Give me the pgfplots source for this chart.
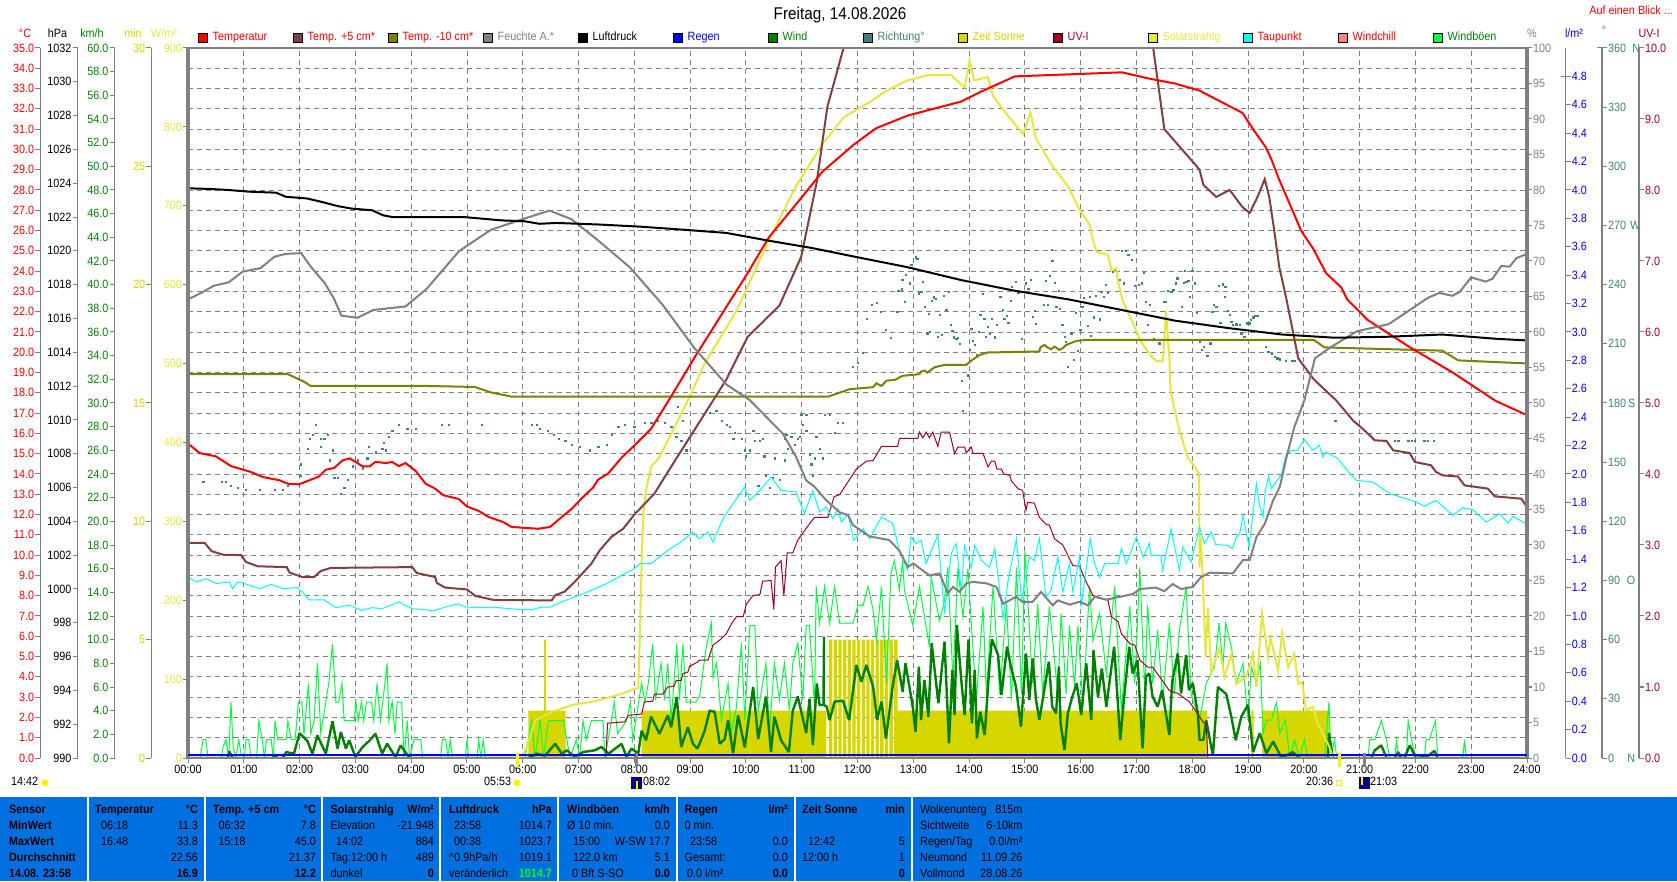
\documentclass[border=0pt]{standalone}
\usepackage{fontspec}
\setmainfont[FakeStretch=0.9]{Liberation Sans}
\usepackage{pgfplots}
\pgfplotsset{compat=1.18}
\definecolor{cHum}{RGB}{128,128,128}
\definecolor{cT5}{RGB}{128,64,64}
\definecolor{cT10}{RGB}{128,128,0}
\definecolor{cDir}{RGB}{64,128,128}
\definecolor{cSun}{RGB}{214,214,0}
\definecolor{cUV}{RGB}{160,0,32}
\definecolor{cSol}{RGB}{230,230,64}
\definecolor{cDew}{RGB}{0,255,255}
\definecolor{cChill}{RGB}{255,128,128}
\definecolor{cGust}{RGB}{0,255,64}
\definecolor{cWind}{RGB}{0,128,0}
\definecolor{cPanel}{RGB}{0,112,224}
\definecolor{cGreenB}{RGB}{0,255,0}
\newcommand{\fs}{\fontsize{12}{13}\selectfont}
\pgfplotsset{
 dataaxis/.style={at={(188pt,123pt)},anchor=south west,scale only axis,width=1339pt,height=710pt,xmin=0,xmax=24,hide axis},
 scaleaxis/.style={scale only axis,anchor=south west,width=10pt,height=710pt,xmin=0,xmax=1,
   hide x axis,axis line style={-,cHum,line width=1.4pt},tick align=outside,major tick length=5pt,
   tick style={cHum,line width=1pt},minor tick num=0,scaled y ticks=false,
   /pgf/number format/assume math mode=true,/pgf/number format/1000 sep={},
   yticklabel style={inner sep=1pt,font=\fs}},
 leftaxis/.style={scaleaxis,axis y line*=left},
 rightaxis/.style={scaleaxis,axis y line*=right},
 onedec/.style={yticklabel style={/pgf/number format/fixed,/pgf/number format/fixed zerofill,/pgf/number format/precision=1}},
}
\begin{document}
\begin{tikzpicture}
\path[use as bounding box] (0,0) rectangle (1677pt,881pt);
% base grid
\begin{axis}[dataaxis,hide axis=false,axis line style={draw=none},ymin=0,ymax=35,
  xtick={0,...,24},ytick={0,...,35},xticklabels={},yticklabels={},major tick length=0pt,
  grid=major,grid style={cHum,line width=0.9pt,dash pattern=on 5pt off 4pt}]
\end{axis}
% sun minutes
\begin{axis}[dataaxis,ymin=0,ymax=30]
\addplot[fill=cSun,draw=none] coordinates {(6.1,0)(6.1,2)(6.38,2)(6.38,5)(6.42,5)(6.42,2)(6.77,2)(6.77,0)(8.13,0)(8.13,2)(11.44,2)(11.44,0)
(11.49,0)(11.49,5)(11.55,5)(11.55,0)(11.573,0)(11.573,5)(11.633,5)(11.633,0)(11.657,0)(11.657,5)(11.717,5)(11.717,0)(11.74,0)(11.74,5)(11.8,5)(11.8,0)
(11.823,0)(11.823,5)(11.883,5)(11.883,0)(11.907,0)(11.907,5)(11.967,5)(11.967,0)(11.99,0)(11.99,5)(12.05,5)(12.05,0)(12.073,0)(12.073,5)(12.133,5)(12.133,0)
(12.157,0)(12.157,5)(12.217,5)(12.217,0)(12.24,0)(12.24,5)(12.3,5)(12.3,0)(12.323,0)(12.323,5)(12.383,5)(12.383,0)(12.407,0)(12.407,5)(12.467,5)(12.467,0)
(12.49,0)(12.49,5)(12.55,5)(12.55,0)(12.573,0)(12.573,5)(12.633,5)(12.633,0)(12.657,0)(12.657,5)(12.717,5)(12.717,2)(18.27,2)(18.27,0)
(19.06,0)(19.06,2)(19.1,2)(19.1,0)(19.25,0)(19.25,2)(20.46,2)(20.46,0)};
\end{axis}
% gust and wind
\begin{axis}[dataaxis,ymin=0,ymax=60]
\addplot[cGust,line width=1pt] coordinates {(0,0)(.22,0)(.27,1.55)(.32,1.55)(.36,0)(.6,0)(.63,.93)(.68,1.55)(.73,0)(.77,4.73)(.81,.93)(.86,0)(.91,1.55)(.95,.37)(1.01,0)(1.04,1.55)(1.09,1.55)(1.13,0)(1.23,0)(1.27,3.15)(1.33,1.55)(1.37,0)(1.41,1.55)(1.49,1.55)(1.53,0)(1.56,3.15)(1.61,1.55)(1.76,1.55)(1.79,3.15)(1.85,1.55)(1.92,1.55)(1.98,4.73)(2.04,4.73)(2.08,2.05)(2.16,6.3)(2.2,2.05)(2.26,3.15)(2.32,8)(2.38,2.05)(2.47,4.73)(2.53,6.55)(2.59,9.66)(2.65,4.73)(2.7,4.73)(2.76,6.3)(2.8,3.15)(2.98,3.15)(3.01,4.73)(3.05,3.15)(3.11,4.73)(3.15,3.15)(3.2,4.73)(3.29,4.73)(3.33,3.15)(3.39,6.3)(3.45,3.15)(3.49,4.73)(3.57,8)(3.6,3.15)(3.66,4.73)(3.71,2.05)(3.75,4.73)(3.83,4.73)(3.87,0)(3.93,3.15)(3.97,0)(4.05,1.55)(4.17,1.55)(4.21,0)(4.53,0)(4.56,1.55)(4.62,1.55)(4.66,0)(4.7,1.55)(4.74,0)(4.97,0)(5.0,1.55)(5.03,0)(5.18,0)(5.21,1.55)(5.25,0)(5.29,1.55)(5.33,0)(6.04,0)(6.1,1.55)(6.16,3.15)(6.22,0)(6.31,3.15)(6.37,0)(6.46,3.15)(6.52,3.15)(6.73,3.15)(6.79,1.55)(6.85,0)(6.96,1.55)(7.02,0)(7.08,3.15)(7.14,1.55)(7.23,3.15)(7.44,3.15)(7.47,0)(7.59,3.15)(7.64,4.73)(7.7,2.05)(7.86,3.15)(7.93,4.73)(7.97,1.5)(8.13,6.3)(8.19,4.73)(8.25,6.3)(8.33,9.66)(8.38,4.87)(8.48,8)(8.54,4.87)(8.6,8)(8.66,3.15)(8.76,9.66)(8.81,4.87)(8.87,9.66)(8.93,4.73)(9.1,4.73)
(9.17,5.2)(9.29,9.4)(9.38,11.4)(9.41,6.8)(9.47,8)(9.5,6.8)(9.56,3.2)(9.68,6.3)(9.74,2.1)(9.83,4.3)(9.92,9.7)(9.98,3.2)(10.07,11.2)(10.16,11.2)(10.22,4)(10.36,8)(10.42,2.1)(10.51,8)(10.6,4.9)(10.69,8)(10.78,4)(10.84,8)(10.93,9.7)(11.02,4.9)(11.08,11.2)(11.14,11.2)(11.23,4.3)(11.26,14.5)(11.32,11.4)(11.41,14.5)(11.5,11.4)(11.59,14.5)(11.68,11.4)(11.92,11.4)(12.01,12.9)(12.1,12.9)(12.19,14.5)(12.28,12.5)(12.34,9.9)(12.43,14.5)(12.52,6.3)(12.6,15.6)(12.66,16.7)(12.75,14.2)(12.81,16.7)(12.84,14.2)(12.99,11.2)(13.11,14.5)(13.29,9.4)(13.32,15.3)(13.47,11.6)(13.56,13.3)(13.62,16.1)(13.71,6.6)(13.8,16.1)(13.89,11.9)(13.98,16)(14.04,11.4)(14.13,4.9)(14.25,12.8)(14.31,5.4)(14.43,14.5)(14.55,5.4)(14.67,13)(14.76,4.9)(14.85,16.1)(14.94,5.4)(15,17.5)(15.14,6.3)(15.23,13)(15.32,5.4)(15.44,12.8)(15.59,5.4)(15.65,12.2)(15.74,5.4)(15.8,11.2)(15.89,6)(15.95,11.2)(16.04,4.3)(16.16,14.5)(16.22,9.9)(16.34,12.2)(16.46,7.1)(16.61,14.5)(16.73,4)(16.88,12.8)(16.97,6.3)(17.06,16.1)(17.15,5.4)(17.2,12.9)(17.29,6.3)(17.38,10.8)(17.47,4.9)(17.59,11.4)(17.68,5.4)(17.77,10.8)(17.89,14.5)(17.98,5.4)(18.13,3.2)(18.25,6.3)(18.4,7.7)(18.48,11.4)
(18.55,7.7)(18.6,11.4)(18.7,9.4)(18.79,6.3)(18.91,8)(19,3.2)(19.06,7.7)(19.15,6.3)(19.22,8)(19.27,2.1)(19.33,3.2)(19.42,3.2)(19.51,4.7)(19.57,2.1)(19.67,3.2)(19.75,0)(19.83,1.55)(19.92,0)(20.01,1.55)(20.07,0)(20.37,0)(20.45,4.73)(20.49,0)(20.55,1.55)(20.59,0)(21.15,0)(21.18,1.55)(21.27,1.55)(21.39,3.15)(21.48,1.55)(21.54,0)(21.63,0)(21.66,1.55)(21.7,0)(21.84,0)(21.87,3.15)(21.93,1.55)(22.01,0)(22.16,0)(22.19,1.55)(22.25,1.55)(22.36,3.15)(22.4,0)(22.85,0)(22.88,1.55)(22.91,0)(24,0)};
\addplot[cWind,line width=2.4pt,line join=bevel] coordinates {(0,0)(.71,0)(.74,.56)(.8,0)(1.52,0)(1.55,.3)(1.6,0)(1.7,0)(1.76,.5)(1.9,.37)(2.0,2.1)(2.14,1.44)(2.23,.37)(2.32,1.9)(2.47,.37)(2.59,3.1)(2.68,.8)(2.74,2.2)(2.83,.8)(2.89,1.5)(3.0,.08)(3.13,.93)(3.27,1.55)(3.36,2.05)(3.48,.37)(3.57,1.2)(3.72,.08)(3.81,1.07)(3.96,.08)(4.0,0)(6.1,0)(6.25,.37)(6.4,.2)(6.58,1.2)(6.7,.37)(6.79,.65)(6.93,.1)(7.08,.5)(7.29,.65)(7.41,.93)(7.54,.37)(7.77,1.2)(7.86,.1)(7.95,.8)(8.07,.37)(8.13,2.3)(8.21,1.5)(8.3,3.5)(8.45,2.05)(8.6,3.6)(8.66,2.6)(8.76,5.15)(8.84,.93)(8.96,2.6)(9.05,1.2)(9.13,.8)
(9.17,1.2)(9.26,2.3)(9.35,4)(9.44,3.9)(9.53,1.2)(9.62,1.6)(9.68,3.2)(9.77,.4)(9.86,3.6)(9.98,.9)(10.13,6)(10.22,1.6)(10.36,5.2)(10.45,.5)(10.51,3.5)(10.63,1.5)(10.77,.5)(10.84,4)(10.93,5.2)(11.08,2.1)(11.14,5)(11.2,1.1)(11.27,6.3)
(11.32,4.48)(11.39,4.48)(11.4,10.25)(11.4,4.48)(11.45,4.34)(11.5,3.21)(11.59,4.76)(11.74,4.84)(11.85,3.21)(11.98,7.86)(12.07,6.45)(12.16,7.86)(12.28,6.03)(12.35,3.21)(12.43,4.76)(12.51,1.66)(12.63,6.03)(12.71,8.28)(12.81,5.6)(12.86,8)(12.99,4.34)(13.04,2.22)(13.1,7.72)(13.14,3.21)(13.2,6.59)(13.27,3.49)(13.33,9.69)(13.39,7.15)(13.45,4.62)(13.56,9.83)(13.64,1.24)(13.7,7.43)(13.74,3.63)(13.78,11.24)(13.86,6.59)(13.92,3.63)(13.99,10.03)(14.05,2.93)(14.1,7.43)(14.14,1.66)(14.2,3.91)(14.28,1.94)(14.37,8.14)(14.41,10.03)(14.52,8.7)(14.58,5.32)(14.68,9.41)(14.75,7.72)(14.84,6.03)(14.93,2.65)(15.02,8.84)(15.08,4.9)(15.14,8.42)(15.2,4.9)(15.26,3.21)(15.43,8.14)
(15.49,4.34)(15.56,3.77)(15.61,7.72)(15.64,2.93)(15.71,.67)(15.77,3.77)(15.85,5.18)(15.93,6.31)(16.01,3.63)(16.1,8)(16.19,3.21)(16.23,9.12)(16.31,5.18)(16.38,7.57)(16.46,4.34)(16.6,9.41)(16.71,1.52)(16.78,5.18)(16.87,9.41)(16.93,7.15)(17.02,8.28)(17.11,.81)(17.17,6.87)(17.23,7.15)(17.29,5.18)(17.38,4.34)(17.46,5.74)(17.59,1.94)(17.64,6.45)(17.74,8.84)(17.8,5.46)(17.89,8.7)(17.94,5.74)(18.01,6.31)(18.1,3.77)(18.13,1.52)(18.2,1.52)(18.25,3.2)(18.37,.2)(18.46,6)
(18.61,5.4)(18.7,3.5)(18.78,1.5)(18.88,3.5)(19,4.5)(19.09,.5)(19.21,2.1)(19.33,.4)(19.45,1.4)(19.6,0)(19.8,.5)(19.92,0)(20.43,0)(20.45,2.1)(20.52,0)(21.21,0)(21.27,.65)(21.39,1.07)(21.48,0)(21.63,0)(21.69,.5)(21.75,0)(21.8,0)(21.9,1.07)(22.01,0)(22.22,.15)(22.34,.6)(22.4,0)(24,0)};
\end{axis}
% wind direction
\begin{axis}[dataaxis,ymin=0,ymax=360]
\addplot[only marks,mark=square*,mark size=0.65pt,cDir,mark options={draw=none,fill=cDir}] coordinates {(.27,140)(.6,140)(.68,140)(.77,138)(.89,137)(1.04,136)(1.28,136)(1.55,136)(1.7,136)(1.79,138)(1.9,139)(1.99,139)(2.01,143)(2.02,149)(2.14,157)(2.18,162)(2.23,164)(2.29,169)(2.38,158)(2.5,164)(2.38,162)(2.44,162)(2.59,156)(2.54,151)(2.62,142)(2.68,142)(2.86,141)(2.8,137)(2.74,134)(2.95,148)(3.04,151)(3.13,147)(3.21,152)(3.24,158)(3.36,155)(3.48,157)(3.54,156)(3.51,160)(3.6,163)(3.66,166)(3.78,169)(3.93,167)(4.08,167)(4.55,169)(4.67,169)(5.27,169)(6.16,169)(6.25,169)(6.31,167)(6.45,166)(6.55,164)(6.64,162)(6.76,161)(6.88,159)(7.02,158)(7.2,156)(7.35,158)(7.5,159)(7.59,164)(7.71,168)(7.83,169)(8.0,168)(8.18,170)(8.3,170)(8.42,171)(8.54,170)(8.66,168)(8.78,178)(8.87,171)(8.75,163)(8.84,161)(8.93,156)(9.05,165)
(9.35,175)(9.47,176)(9.56,171)(9.65,169)(9.71,168)(9.8,165)(9.92,162)(9.77,162)(9.98,156)(10.07,156)(10.13,166)(10.16,161)(10.25,161)(10.3,162)(10.0,153)(10.33,153)(10.51,152)(10.22,138)(10.36,143)(10.48,142)(10.6,141)(10.42,137)(10.69,162)(10.72,164)(10.81,163)(10.87,159)(10.93,162)(10.69,151)(10.75,157)(10.84,155)(10.96,163)(11.02,169)(10.99,174)(11.08,174)(11.08,166)(11.26,163)(11.14,154)(11.32,157)(11.23,152)(11.38,152)(11.17,149)(11.2,143)(11.41,174)(11.5,174)(11.59,165)(11.65,170)(11.74,170)(13.89,176)
(11.91,198.5)(12,200.5)(12.09,205.6)(12.16,222.6)(12.25,229.7)(12.34,230.9)(12.41,226.4)(12.5,217)(12.59,213.2)(12.71,226.4)(12.73,237)(12.79,237.7)(12.8,242.4)(12.84,231.4)(12.86,245)(12.93,240.7)(12.96,250)(13.04,253.9)(13.07,253)(13.1,235.7)(13.14,236.5)(13.17,241.6)(13.2,228.9)(13.25,215.4)(13.28,225.2)(13.3,216.2)(13.33,231.9)(13.36,233.6)(13.4,233)(13.44,213.7)(13.47,224.8)(13.51,214.5)(13.54,234.3)(13.59,227.2)(13.63,236.5)(13.67,219.6)(13.7,216.7)(13.73,213.4)(13.77,212.7)(13.8,213)(13.83,210)(13.87,191.4)(13.97,194.1)(14.01,206.9)(14.04,217.7)(14.06,211.7)(14.1,209.5)(14.14,204.6)(14.17,216.2)(14.2,224.7)(14.24,235.3)(14.27,222.6)(14.3,213.7)(14.33,218.8)(14.37,215.4)(14.4,222.6)(14.46,213.4)(14.5,219.8)(14.56,234)(14.6,227.2)(14.63,222.6)(14.67,224.2)(14.7,220.6)(14.74,231.9)(14.77,239)(14.83,241.4)(14.88,236)(14.94,212.7)(14.98,236.5)(15.01,240.7)(15.06,237.9)(15.1,242.4)(15.14,223.8)(15.17,226.9)(15.2,220.1)(15.29,234.8)(15.34,229.7)(15.37,242.1)(15.41,229.7)(15.44,244.4)(15.49,252.2)(15.48,257.6)(15.53,241)(15.56,228.9)(15.6,236.8)(15.63,227.7)(15.67,219.6)(15.72,213.7)(15.73,211.2)(15.77,198.5)(15.83,215.4)(15.87,201.9)(15.91,225.9)(15.95,206.4)(15.99,217)(16.03,228.9)(16.06,233.5)(16.13,219.1)(16.16,234)(16.18,214)(16.23,223.5)(16.27,234.3)(16.34,222.5)(16.37,236.5)(16.41,234)(16.45,239.9)(16.49,236)(16.58,246.6)(16.61,247.5)(16.73,257.1)(16.81,257.1)(16.85,255.1)(16.92,252.6)(16.69,242.4)(16.77,240.7)(16.97,239.4)(17.04,239.9)(17.1,240.7)(17.13,246.1)(17.16,231.4)(17.2,219.6)(17.24,229.7)(17.31,212.7)(17.41,210.3)(17.49,231.4)(17.53,231.4)(17.56,237)(17.62,236.5)(17.66,237.3)(17.7,240.7)(17.73,243.3)(17.81,228.9)(17.85,241)(17.87,247.2)(17.89,241.6)(17.93,242.1)(17.96,234)(18,247.2)(18.04,240.7)(18.08,225.9)(18.13,211.2)(18.17,206.9)(18.2,208.6)(18.27,203.9)(18.32,210.3)(18.36,226.4)(18.39,229.7)(18.43,228.9)(18.47,239.4)(18.5,220.8)(18.54,240.2)(18.59,239)(18.58,234)(18.64,226.7)(18.67,224.7)(18.7,221.3)(18.73,219.6)(18.79,219.9)(18.85,219.6)(18.88,215.4)(18.93,213.7)(18.98,220.4)(19.02,220.4)(19.05,222.1)(19.09,223.5)(19.13,224.2)(19.17,224.2)(19.22,216.2)(19.27,212)(19.32,208.6)(19.36,206.1)(19.42,204.9)(19.48,203.6)(19.52,202.7)(19.57,202.2)(19.67,201.5)(19.79,201.5)(19.83,201.5)
(20.56,171)(21.63,161)(21.69,161)(21.87,161)(21.93,161)(21.99,161)(22.16,161)(22.22,161)(22.33,161)};
\end{axis}
% UV index
\begin{axis}[dataaxis,ymin=0,ymax=10]
\addplot[cUV,line width=1pt] coordinates {(7.49,0)(7.52,.49)(7.83,.51)(7.89,.6)(8.13,.62)(8.18,.79)(8.33,.8)(8.36,.9)(8.51,.9)(8.6,1)(8.71,1.01)(8.75,1.09)(8.84,1.09)(8.87,1.19)(8.96,1.21)(8.99,1.29)(9.13,1.35)(9.17,1.38)(9.32,1.38)(9.41,1.59)(9.53,1.66)(9.65,1.75)(9.74,1.89)(9.83,1.99)(9.95,1.99)(10.01,2.17)(10.13,2.29)(10.25,2.3)(10.3,2.49)(10.45,2.5)(10.5,2.09)(10.53,2.69)(10.63,2.78)(10.68,2.29)(10.74,2.89)(10.84,2.89)(10.93,3.07)(11.03,3.18)(11.14,3.3)(11.23,3.39)(11.47,3.39)(11.58,3.68)(11.68,3.71)(11.98,4.07)(12.16,4.18)(12.28,4.19)(12.43,4.39)(12.72,4.39)(12.75,4.5)(13.08,4.5)(13.11,4.59)(13.17,4.51)(13.23,4.59)(13.29,4.51)(13.35,4.59)(13.44,4.39)(13.5,4.59)(13.65,4.59)(13.74,4.29)(13.8,4.38)(13.92,4.38)(13.95,4.3)(14.04,4.38)(14.07,4.29)(14.25,4.29)(14.34,4.1)(14.4,4.18)(14.46,4.18)(14.5,4.07)(14.58,4.07)(14.62,4)(14.73,3.98)(14.76,3.9)(14.88,3.79)(14.96,3.77)(15.02,3.49)(15.05,3.6)(15.17,3.59)(15.26,3.39)(15.38,3.29)(15.44,3.28)(15.53,3.09)(15.68,3)(15.86,2.71)(15.98,2.7)(16.1,2.48)(16.22,2.29)(16.49,2.22)(16.55,1.99)(16.67,1.92)(16.73,1.75)(16.88,1.61)(16.97,1.59)(17.06,1.38)(17.2,1.28)(17.29,1.28)(17.5,1.05)(17.59,.95)(17.74,.91)(17.95,.79)(18.1,.62)(18.19,.51)(18.25,.48)(18.28,0)};
\end{axis}
% solar radiation
\begin{axis}[dataaxis,ymin=0,ymax=900]
\addplot[cSol,line width=2pt] coordinates {(5.98,0)(6.07,13.9)(6.22,47.7)(6.58,60)(6.93,68)(7.23,71)(7.65,78.6)(7.77,81.5)(8.07,89)(8.1,157.6)(8.14,271.7)(8.17,318)(8.21,339)(8.3,369)(8.45,381.5)(8.66,411)(8.96,453)(9.26,500)(9.84,568)(10.41,656)(10.89,724)(11.37,778)(11.75,812)(12.23,832)(12.52,846)(12.9,859)(13.29,866)(13.67,866)(13.92,850)(14.01,884)(14.09,859)(14.34,863)(14.43,839)(14.72,812)(14.97,791)(15.1,818)(15.2,785)(15.49,751)(15.78,724)(15.97,696)(16.16,676)(16.22,656.6)(16.28,641.8)(16.49,637.6)(16.55,618.6)(16.64,620.7)(16.67,603.8)(16.76,578.4)(16.94,551)(17.06,529.8)(17.27,508.7)(17.35,503.7)(17.47,502.4)(17.5,529.8)(17.53,567)(17.56,535)(17.59,508.7)(17.61,466.5)(17.65,453)(17.77,415)(17.92,381)(18.12,361)(18.13,242)(18.15,280)(18.18,242)(18.24,128)(18.28,191)(18.34,109)(18.49,139)(18.58,103)(18.7,132)(18.79,94)(18.97,103)(19.09,132)(19.15,90)(19.25,183)(19.36,128)(19.4,153)(19.54,111)(19.61,158)(19.72,115)(19.83,132)(19.9,94)(19.97,96)(20.04,60)(20.16,65)(20.25,43.5)(20.46,14)(20.52,0)};
\end{axis}
% temperatures in degrees C
\begin{axis}[dataaxis,ymin=0,ymax=35]
\addplot[cDew,line width=1pt] coordinates {(0,8.92)(.15,8.68)(.33,8.84)(.51,8.6)(.74,8.68)(.8,8.35)(.89,8.68)(.98,8.63)(1.28,8.35)(1.49,8.56)(1.7,8.35)(1.96,8.4)(2.05,8.18)(2.17,7.8)(2.44,7.8)(2.65,7.41)(2.89,7.53)(3.1,7.28)(3.3,7.41)(3.48,7.36)(3.78,7.69)(4.02,7.36)(4.26,7.31)(4.38,7.25)(4.61,7.44)(4.85,7.6)(4.97,7.44)(5.33,7.41)(5.57,7.41)(5.98,7.31)(6.16,7.31)(6.34,7.44)(6.49,7.44)(6.7,7.69)(6.93,7.94)(7.23,8.26)(7.53,8.63)(7.77,9)(8,9.33)(8.1,9.58)(8.3,9.58)(8.6,10.24)(8.84,10.65)(9.05,11.14)(9.13,10.89)(9.17,10.81)(9.32,11.14)(9.41,10.65)(9.59,11.8)(9.77,12.54)(9.98,13.36)(10.07,12.7)(10.28,13.28)(10.45,13.85)(10.63,13.19)(10.9,13.11)(11.05,12.04)(11.2,13.19)(11.32,12.13)(11.44,12.37)(11.56,11.8)(11.65,12.29)(11.71,11.63)(11.83,12.04)(11.93,10.73)(12.1,11.3)(12.22,10.81)(12.43,11.88)(12.63,11.58)(12.75,10.24)(12.9,9.25)(12.96,10.89)(13.05,10.57)(13.14,10.73)(13.23,9.58)(13.35,10.4)(13.44,10.98)(13.56,7.11)(13.68,10.07)(13.77,10.57)(13.86,8.26)(13.92,10.48)(14.04,9.41)(14.1,10.48)(14.22,9.74)(14.37,9.41)(14.46,10.32)(14.61,6.87)(14.7,8.76)(14.85,10.81)(14.94,7.77)(15.08,9.91)(15.17,9.74)(15.26,10.81)(15.38,7.94)(15.47,8.26)(15.59,9.91)(15.68,8.18)(15.8,9.58)(15.86,8.18)(15.98,9.91)(16.01,7.44)(16.17,10.81)(16.25,9.58)(16.34,8.92)(16.43,9.58)(16.67,9.58)(16.73,10.32)(16.82,9.58)(17,10.89)(17.12,9.91)(17.23,10.57)(17.26,9.99)(17.44,9.99)(17.47,9.25)(17.62,11.3)(17.77,9.25)(17.83,10.4)(17.98,9.66)(18.13,11.39)(18.22,10.57)(18.34,11.14)(18.42,10.52)(18.64,10.48)(18.72,10.32)(18.79,10.89)(18.85,11.06)(18.91,11.96)(19.02,10.4)(19.15,13.52)(19.2,12.54)(19.27,11.88)(19.31,13.19)(19.37,13.88)(19.42,13.28)(19.6,13.98)(19.67,14.84)(19.77,15.17)(19.89,15.17)(20.01,15.69)(20.16,15.17)(20.28,15.41)(20.34,14.84)(20.4,15.08)(20.61,14.76)(20.73,14.34)(20.94,13.69)(21.24,13.6)(21.54,13.03)(21.84,12.78)(22.01,12.62)(22.16,12.41)(22.37,12.7)(22.67,11.96)(22.85,12.34)(23.03,12.24)(23.27,11.63)(23.51,12.04)(23.66,11.58)(23.75,11.91)(24,11.52)};
\addplot[cT10,line width=2pt] coordinates {(0,18.92)(1.79,18.92)(2.08,18.55)(2.2,18.34)(4.28,18.34)(5.14,18.29)(5.43,18.02)(5.81,17.81)(11.47,17.81)(11.86,18.18)(12.28,18.28)(12.34,18.47)(12.43,18.34)(12.52,18.6)(12.67,18.64)(12.81,18.84)(13.11,18.92)(13.14,19.05)(13.2,19.1)(13.25,19)(13.38,19.26)(13.56,19.38)(13.95,19.38)(14.04,19.59)(14.19,19.87)(14.34,19.99)(15.26,20.04)(15.28,20.25)(15.35,20.36)(15.41,20.23)(15.47,20.15)(15.53,20.28)(15.62,20.12)(15.68,20.2)(15.74,20.36)(15.89,20.53)(15.98,20.58)(16.13,20.61)(20.18,20.61)(20.37,20.24)(22.48,20.08)(22.77,19.6)(24,19.45)};
\addplot[cT5,line width=2pt] coordinates {(0,10.6)(.3,10.6)(.42,10.2)(.63,10.02)(.95,10)(1.04,9.66)(1.25,9.45)(1.77,9.41)(1.82,9.14)(2.05,8.92)(2.26,8.92)(2.38,9.22)(2.56,9.37)(4.02,9.41)(4.1,9.12)(4.43,8.92)(4.46,8.63)(4.61,8.4)(5,8.31)(5.15,7.99)(5.48,7.79)(6.52,7.77)(6.58,8.02)(6.75,8.2)(6.93,8.68)(7.23,9.58)(7.38,10.24)(7.59,10.9)(7.8,11.3)(8,12)(8.36,13.03)(8.6,14.1)(8.96,15.66)(9.13,16.4)(9.65,18.66)(10.03,20.76)(10.6,22.3)(10.99,24.7)(11.27,28.4)(11.46,32.1)(11.75,35)(12,38)(15.3,45)(17.0,36)(17.3,35)(17.5,31)(18.07,29.2)(18.13,29)(18.2,28.25)(18.43,27.66)(18.67,28)(18.9,27.16)(19.03,26.87)(19.17,27.66)(19.3,28.54)(19.38,27.66)(19.47,26)(19.56,24.2)(19.69,22.6)(19.9,19.7)(20.18,18.66)(20.58,17.63)(20.88,16.64)(21.12,16.07)(21.27,15.66)(21.48,15.63)(21.6,15.17)(21.9,15.03)(21.99,14.59)(22.28,14.43)(22.37,14.1)(22.49,13.93)(22.76,13.88)(22.88,13.44)(23.3,13.28)(23.42,12.9)(23.9,12.78)(24,12.37)};
\addplot[red,line width=2pt] coordinates {(0,15.5)(.21,15.03)(.5,14.87)(.77,14.39)(1.13,14.1)(1.34,13.85)(1.64,13.69)(1.79,13.52)(1.99,13.49)(2.35,13.88)(2.47,14.21)(2.62,14.3)(2.77,14.67)(2.9,14.77)(3.13,14.38)(3.26,14.38)(3.36,14.6)(3.54,14.54)(3.66,14.59)(3.78,14.39)(3.9,14.54)(4.08,14.15)(4.26,13.52)(4.43,13.28)(4.58,12.95)(4.85,12.77)(5,12.4)(5.21,12.18)(5.39,11.88)(5.65,11.63)(5.8,11.39)(6.28,11.3)(6.49,11.39)(6.7,11.88)(6.88,12.29)(7.05,12.78)(7.26,13.33)(7.35,13.72)(7.53,14.02)(7.77,14.8)(8,15.4)(8.3,16.23)(8.6,17.55)(9.07,19.7)(10.03,23.9)(10.41,25.66)(10.99,27.6)(11.37,28.9)(11.94,30.25)(12.33,31.04)(12.9,31.67)(13.86,32.36)(14.24,32.88)(14.82,33.6)(15.78,33.7)(16.74,33.8)(17.21,33.5)(17.69,33.25)(18.13,32.9)(18.9,31.8)(19.1,30.96)(19.32,30.1)(19.42,29.5)(19.56,28.5)(19.74,27.36)(19.95,26)(20.16,25.14)(20.4,23.9)(20.67,23.2)(20.78,22.6)(21.14,21.6)(21.9,20.25)(22.67,19)(23.44,17.6)(24,16.9)};
\end{axis}
% humidity
\begin{axis}[dataaxis,ymin=0,ymax=100]
\addplot[cHum,line width=2pt] coordinates {(0,64.6)(.21,65.4)(.46,66.5)(.73,67)(.98,68.5)(1.3,69)(1.55,70.6)(1.75,71)(2.03,71.1)(2.2,69.2)(2.45,66.9)(2.61,64.8)(2.75,62.3)(3.04,62)(3.32,63.1)(3.9,63.6)(4.28,66.1)(4.86,71.4)(5.43,74.4)(6,75.9)(6.48,77.1)(6.87,75.9)(7.35,72.9)(7.92,69.1)(8.5,63.9)(9.07,57.8)(9.65,52.6)(10.07,50.4)(10.42,47.6)(10.66,45.7)(10.9,42.4)(11.08,39.1)(11.23,38.2)(11.44,36.3)(11.68,34.6)(11.83,34.2)(11.92,32.8)(12.22,31.2)(12.57,30.7)(12.75,29.2)(12.9,26.9)(13,27.4)(13.29,25.7)(13.47,26)(13.62,23.2)(13.71,24.1)(13.83,23.4)(13.95,24.6)(14.07,24.8)(14.31,24.6)(14.49,24.1)(14.61,21.7)(14.84,22.7)(14.96,22)(15.14,22)(15.29,23.4)(15.5,21.5)(15.59,22.2)(15.8,21.6)(15.98,22)(16.13,21.5)(16.25,22.7)(16.46,22.3)(16.7,22.7)(16.94,23.1)(17.06,23.8)(17.35,24)(17.5,23.5)(17.65,24.5)(17.8,23.8)(18.01,24.1)(18.16,25.5)(18.31,26.1)(18.73,26)(18.91,27.9)(19.03,27.9)(19.15,31.1)(19.3,33)(19.45,36.3)(19.57,38.2)(19.69,42.4)(19.83,46.6)(20.01,50.4)(20.2,56.3)(20.47,57.8)(20.95,60.1)(21.52,61.1)(21.9,63.1)(22.22,64.8)(22.43,65.5)(22.66,65.1)(22.79,65.6)(23,67.7)(23.26,67.1)(23.38,67.5)(23.54,69.3)(23.69,69.2)(23.81,70.4)(24,71)};
\end{axis}
% pressure
\begin{axis}[dataaxis,ymin=990,ymax=1032]
\addplot[black,line width=2pt] coordinates {(0,1023.7)(.4,1023.66)(.72,1023.6)(1.1,1023.5)(1.58,1023.44)(1.75,1023.2)(2.13,1023.1)(2.39,1022.9)(2.68,1022.65)(2.93,1022.5)(3.3,1022.4)(3.5,1022.1)(3.66,1022)(4.94,1022)(5.63,1021.8)(6.03,1021.75)(6.3,1021.6)(6.6,1021.65)(7.35,1021.56)(8.11,1021.43)(8.88,1021.25)(9.65,1021.06)(10.41,1020.6)(11.18,1020.17)(11.94,1019.66)(12.9,1019.03)(13.86,1018.27)(14.82,1017.64)(15.78,1017.13)(16.74,1016.5)(17.69,1015.87)(18.65,1015.43)(19.61,1015.05)(20.56,1014.86)(21.52,1014.92)(22.48,1015.05)(23.44,1014.8)(24,1014.7)};
\end{axis}
% frame with W/m2 and time axis
\begin{axis}[at={(188pt,123pt)},anchor=south west,scale only axis,width=1339pt,height=710pt,xmin=0,xmax=24,ymin=0,ymax=900,
  separate axis lines,axis x line*=box,axis y line*=box,
  x axis line style={cHum,line width=2.5pt},y axis line style={cHum,line width=4pt},
  tick align=outside,major tick length=5pt,tick style={cHum,line width=1pt},
  xtick={0,...,24},ytick={0,100,...,900},xtick pos=bottom,ytick pos=left,
  xticklabels={00:00,01:00,02:00,03:00,04:00,05:00,06:00,07:00,08:00,09:00,10:00,11:00,12:00,13:00,14:00,15:00,16:00,17:00,18:00,19:00,20:00,21:00,22:00,23:00,24:00},
  xticklabel style={font=\fs,black,inner sep=1pt,yshift=-1pt},
  yticklabel style={font=\fs,cSol,inner sep=1pt},
  /pgf/number format/assume math mode=true]
\end{axis}
% rain line at zero
\begin{axis}[dataaxis,ymin=0,ymax=5,clip=false]
\addplot[blue,line width=1.4pt] coordinates {(0,0.02)(24,0.02)};
\end{axis}
% scale axes
\begin{axis}[leftaxis,at={(40.4pt,123pt)},ymin=0,ymax=35,ytick={0,...,35},onedec,yticklabel style={red}]\end{axis}
\begin{axis}[leftaxis,at={(77.5pt,123pt)},ymin=990,ymax=1032,ytick={990,992,...,1032},yticklabel style={black}]\end{axis}
\begin{axis}[leftaxis,at={(114.6pt,123pt)},ymin=0,ymax=60,ytick={0,2,...,60},onedec,yticklabel style={cWind}]\end{axis}
\begin{axis}[leftaxis,at={(151.4pt,123pt)},ymin=0,ymax=30,ytick={0,5,...,30},yticklabel style={cSun}]\end{axis}
\begin{axis}[rightaxis,at={(1517pt,123pt)},axis line style={draw=none},ymin=0,ymax=100,ytick={0,5,...,100},yticklabel style={cHum}]\end{axis}
\begin{axis}[rightaxis,at={(1555.7pt,123pt)},ymin=0,ymax=5,ytick={0,0.2,...,4.8},onedec,yticklabel style={blue}]\end{axis}
\begin{axis}[rightaxis,at={(1592pt,123pt)},ymin=0,ymax=360,ytick={0,30,...,360},
  yticklabels={\makebox[27pt][l]{0\hfill N},30,60,\makebox[27pt][l]{90\hfill O},120,150,\makebox[27pt][l]{180\hfill S},210,240,\makebox[32pt][l]{270\hfill W},300,330,\makebox[32pt][l]{360\hfill N}},
  yticklabel style={cDir}]\end{axis}
\begin{axis}[rightaxis,at={(1629pt,123pt)},ymin=0,ymax=10,ytick={0,...,10},onedec,yticklabel style={cUV}]\end{axis}
% texts in pixel coordinates, y downwards
\begin{scope}[x=1pt,y=-1pt,shift={(0pt,881pt)},every node/.style={inner sep=0pt,font=\fs}]
\draw[cHum,line width=1pt] (1561,76.3)--(1566,76.3);
\draw[cHum,line width=1pt] (1597,48)--(1602,48);
\node[font=\fontsize{17}{18}\selectfont] at (840,15) {Freitag, 14.08.2026};
\node[red,anchor=mid east] at (1673,12) {Auf einen Blick ...};
\node[red] at (25,33) {°C};
\node at (57.5,33) {hPa};
\node[cWind] at (92,33) {km/h};
\node[cSun] at (133,33) {min};
\node[cSol] at (164,33) {W/m²};
\node[cHum] at (1532,33) {\%};
\node[blue] at (1574,33) {l/m²};
\node[cDir] at (1604,30) {°};
\node[cUV] at (1649,33) {UV-I};
% legend
\foreach \x/\c/\tc/\t in {203/red/red/Temperatur,298/cT5/red/Temp. +5 cm*,393/cT10/red/Temp. -10 cm*,488/cHum/cHum/Feuchte A.*,583/black/black/Luftdruck,678/blue/blue/Regen,773/cWind/cWind/Wind,868/cDir/cDir/Richtung°,963/cSun/cSun/Zeit Sonne,1058/cUV/cUV/UV-I,1153/cSol/cSol/Solarstrahlg,1248/cDew/red/Taupunkt,1343/cChill/red/Windchill,1438/cGust/cWind/Windböen}{
  \draw[black,fill=\c,line width=0.8pt] (\x-4.5,33.5) rectangle (\x+4.5,42.5);
  \node[\tc,anchor=mid west] at (\x+9.5,38) {\t};
}
% sunrise, sunset, moon
\node[anchor=mid west] at (11,783) {14:42};
\fill[yellow] (45,783) circle (3.5);
\fill[yellow] (515.5,753) rectangle (518.5,767);
\node[anchor=mid west] at (484,783) {05:53};
\fill[yellow] (517,783) circle (3.5);
\fill[cHum] (634.5,753) rectangle (637.5,767);
\fill[blue!50!black] (631,777) rectangle (642,789);
\fill[yellow] (636,781) rectangle (638,789);
\node[anchor=mid west] at (643,783) {08:02};
\fill[yellow] (1337.5,753) rectangle (1340.5,767);
\node[anchor=mid west] at (1306,783) {20:36};
\draw[yellow,line width=1pt] (1336.5,780.5) rectangle (1341.5,785.5);
\fill[cHum] (1362.5,753) rectangle (1365.5,767);
\fill[blue!50!black] (1359,777) rectangle (1370,789);
\fill[yellow] (1361,777) rectangle (1363,785);
\node[anchor=mid west] at (1370,783) {21:03};
% panel
\fill[cPanel] (0,797) rectangle (1677,881);
\foreach \x in {87.5,204.5,322,440,558,676.5,794.5,911.5}{\fill[white] (\x-1,797) rectangle (\x+1,881);}
\newcommand{\pL}[3]{\node[anchor=mid west,#3] at (#1) {#2};}
\newcommand{\pR}[3]{\node[anchor=mid east,#3] at (#1) {#2};}
\foreach \y/\t in {811/Sensor,827/MinWert,843/MaxWert,859/Durchschnitt,875/14.08. 23:58}{\node[anchor=mid west,font=\fs\bfseries] at (9,\y) {\t};}
% Temperature
\pL{95,811}{Temperatur}{font=\fs\bfseries}\pR{198,811}{°C}{font=\fs\bfseries}
\pL{101,827}{06:18}{}\pR{198,827}{11.3}{}\pL{101,843}{16:48}{}\pR{198,843}{33.8}{}\pR{198,859}{22.56}{}\pR{198,875}{16.9}{font=\fs\bfseries}
% Temp +5
\pL{213,811}{Temp. +5 cm}{font=\fs\bfseries}\pR{316,811}{°C}{font=\fs\bfseries}
\pL{218.5,827}{06:32}{}\pR{316,827}{7.8}{}\pL{218.5,843}{15:18}{}\pR{316,843}{45.0}{}\pR{316,859}{21.37}{}\pR{316,875}{12.2}{font=\fs\bfseries}
% Solar
\pL{330.5,811}{Solarstrahlg}{font=\fs\bfseries}\pR{434,811}{W/m²}{font=\fs\bfseries}
\pL{330.5,827}{Elevation}{}\pR{434,827}{-21.948}{}\pL{336,843}{14:02}{}\pR{434,843}{884}{}\pL{330.5,859}{Tag:12:00 h}{}\pR{434,859}{489}{}\pL{330.5,875}{dunkel}{}\pR{434,875}{0}{font=\fs\bfseries}
% Pressure
\pL{449,811}{Luftdruck}{font=\fs\bfseries}\pR{552,811}{hPa}{font=\fs\bfseries}
\pL{454,827}{23:58}{}\pR{552,827}{1014.7}{}\pL{454,843}{00:38}{}\pR{552,843}{1023.7}{}\pL{449,859}{\^{}0.9hPa/h}{}\pR{552,859}{1019.1}{}\pL{449,875}{veränderlich}{}\pR{552,875}{1014.7}{font=\fs\bfseries,cGreenB}
% Gusts
\pL{567,811}{Windböen}{font=\fs\bfseries}\pR{670,811}{km/h}{font=\fs\bfseries}
\pL{567,827}{Ø 10 min.}{}\pR{670,827}{0.0}{}\pL{573,843}{15:00}{}\pR{670,843}{W-SW 17.7}{}\pL{573,859}{122.0 km}{}\pR{670,859}{5.1}{}\pL{572,875}{0 Bft S-SO}{}\pR{670,875}{0.0}{font=\fs\bfseries}
% Rain
\pL{684.5,811}{Regen}{font=\fs\bfseries}\pR{788,811}{l/m²}{font=\fs\bfseries}
\pL{684.5,827}{0 min.}{}\pL{690,843}{23:58}{}\pR{788,843}{0.0}{}\pL{684.5,859}{Gesamt:}{}\pR{788,859}{0.0}{}\pL{687,875}{0.0 l/m²}{}\pR{788,875}{0.0}{font=\fs\bfseries}
% Sun time
\pL{802,811}{Zeit Sonne}{font=\fs\bfseries}\pR{905,811}{min}{font=\fs\bfseries}
\pL{808,843}{12:42}{}\pR{905,843}{5}{}\pL{802,859}{12:00 h}{}\pR{905,859}{1}{}\pR{905,875}{0}{font=\fs\bfseries}
% Info
\pL{920,811}{Wolkenunterg}{}\pR{1022.6,811}{815m}{}\pL{920,827}{Sichtweite}{}\pR{1022.6,827}{6-10km}{}\pL{920,843}{Regen/Tag}{}\pR{1022.6,843}{0.0l/m²}{}\pL{920,859}{Neumond}{}\pR{1022.6,859}{11.09.26}{}\pL{920,875}{Vollmond}{}\pR{1022.6,875}{28.08.26}{}
\end{scope}
\end{tikzpicture}
\end{document}
